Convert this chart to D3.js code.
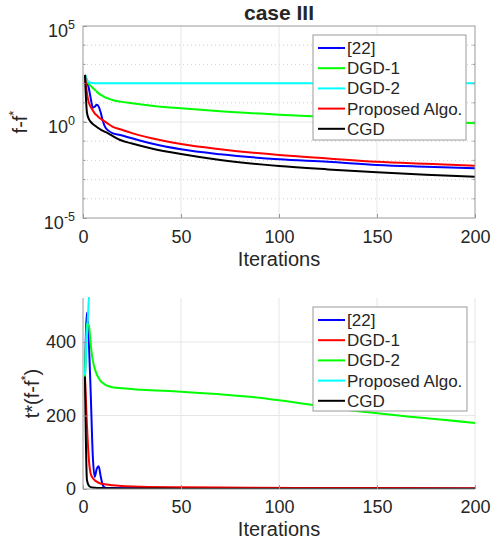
<!DOCTYPE html>
<html>
<head>
<meta charset="utf-8">
<title>case III</title>
<script src="https://d3js.org/d3.v7.min.js"></script>
<style>
    body { margin: 0; background: #fff; }
    svg text { font-family: "Liberation Sans", Arial, Helvetica, sans-serif; fill: #262626; }
</style>
</head>
<body>
<div id="chart"></div>
<script>
    // ---- top panel : f - f* (log scale) ----
    var topIters    = [1, 2, 3, 4, 5, 6, 7, 8, 9, 10, 11, 13, 15, 19, 25, 35, 50, 70, 100, 125, 150, 175, 200];
    var topRef22    = [282, 141, 56, 15.8, 5.6, 6.3, 7.9, 6.3, 3.2, 1.26, 0.63, 0.355, 0.263, 0.209, 0.141, 0.076, 0.038, 0.0209, 0.0115, 0.0085, 0.0058, 0.0047, 0.0039];
    var topDgd1     = [282, 141, 95, 76, 59, 48, 38, 31, 26, 23, 20, 16.6, 14.1, 11.5, 9.5, 7.1, 5.2, 3.6, 2.4, 1.82, 1.41, 1.10, 0.85];
    var topDgd2     = [282, 158, 117, 110, 107, 105, 105, 105, 105, 105, 105, 105, 105, 105, 105, 105, 105, 105, 105, 105, 105, 105, 105];
    var topProposed = [282, 32, 10, 6.0, 4.0, 2.8, 2.24, 1.78, 1.48, 1.26, 1.07, 0.79, 0.575, 0.42, 0.263, 0.141, 0.071, 0.038, 0.019, 0.0126, 0.0085, 0.0066, 0.0052];
    var topCgd      = [282, 3.2, 1.41, 1.0, 0.79, 0.66, 0.55, 0.47, 0.40, 0.355, 0.316, 0.25, 0.19, 0.115, 0.076, 0.042, 0.0214, 0.0105, 0.0051, 0.0034, 0.0024, 0.0018, 0.0014];
    var topLabels   = ["[22]", "DGD-1", "DGD-2", "Proposed Algo.", "CGD"];
    var topColors   = ["#0000ff", "#00ff00", "#00ffff", "#ff0000", "#000000"];
    var topYTicks   = [1e-5, 1, 1e5];

    // ---- bottom panel : t*(f - f*) ----
    var botIters    = [1, 2, 3, 4, 5, 6, 7, 8, 9, 10, 11, 12, 15, 20, 30, 50, 85, 143, 200];
    var botRef22    = [300, 480, 400, 250, 90, 33, 55, 62, 35, 12, 4, 3, 2.5, 2, 2, 2, 1.5, 1.2, 1];
    var botDgd1     = [306, 175, 80, 40, 30, 24, 20, 17, 15, 14, 13, 12, 10, 8, 6, 4.5, 3.5, 2.5, 2];
    var botDgd2     = [300, 450, 445, 390, 350, 328, 312, 302, 294, 289, 285, 282, 277, 274, 270, 265, 251, 210, 180];
    var botProposed = [310, 420, 520, 630, null, null, null, null, null, null, null, null, null, null, null, null, null, null, null];
    var botCgd      = [306, 25, 9, 5, 4, 3.5, 3, 2.8, 2.6, 2.4, 2.2, 2, 1.8, 1.5, 1.2, 1, 0.8, 0.6, 0.5];
    var botLabels   = ["[22]", "DGD-1", "DGD-2", "Proposed Algo.", "CGD"];
    var botColors   = ["#0000ff", "#ff0000", "#00ff00", "#00ffff", "#000000"];
    var botYTicks   = [0, 200, 400];

    var xTicks = [0, 50, 100, 150, 200];

    var W = 499, H = 542;
    var left = 83, right = 475;
    var axisColor = "#9a9a9a";
    var tickFont = "18px", labelFont = "20px", legendFont = "17px";

    var svg = d3.select("#chart").append("svg")
        .attr("width", W)
        .attr("height", H);

    function DrawLegend(g, labels, colors, box) {
        var lg = g.append("g");
        lg.append("rect")
            .attr("x", box.x).attr("y", box.y)
            .attr("width", box.w).attr("height", box.h)
            .attr("fill", "#fff")
            .attr("stroke", axisColor)
            .attr("stroke-width", 1);
        labels.forEach(function (lab, i) {
            var yy = box.y + 13 + i * 20.2;
            lg.append("line")
                .attr("x1", box.x + 5).attr("x2", box.x + 32)
                .attr("y1", yy).attr("y2", yy)
                .attr("stroke", colors[i])
                .attr("stroke-width", 2);
            lg.append("text")
                .attr("x", box.x + 34)
                .attr("y", yy + 6)
                .attr("font-size", legendFont)
                .text(lab);
        });
    }

    function DrawSeries(g, x, y, iters, seriesList, colors, clipId) {
        var line = d3.line()
            .defined(function (d) { return d[1] != null; })
            .x(function (d) { return x(d[0]); })
            .y(function (d) { return y(d[1]); })
            .curve(d3.curveMonotoneX);
        var lines = g.append("g").attr("clip-path", "url(#" + clipId + ")");
        seriesList.forEach(function (vals, i) {
            var pts = iters.map(function (t, k) { return [t, vals[k]]; });
            lines.append("path")
                .datum(pts)
                .attr("d", line)
                .attr("fill", "none")
                .attr("stroke", colors[i])
                .attr("stroke-width", 2)
                .attr("stroke-linejoin", "round");
        });
    }

    function StyleAxis(a) {
        a.select(".domain").remove();
        a.selectAll(".tick line").attr("stroke", axisColor);
        a.selectAll(".tick text").attr("font-size", tickFont).attr("fill", "#262626");
        a.attr("font-family", null);
    }

    // ================= top panel =================
    var t0 = 26, t1 = 218;
    var xTop = d3.scaleLinear().domain([0, 200]).range([left, right]);
    var yTop = d3.scaleLog().domain([1e-5, 1e5]).range([t1, t0]);
    var gTop = svg.append("g");

    gTop.append("clipPath").attr("id", "clipTop")
        .append("rect").attr("x", left).attr("y", t0)
        .attr("width", right - left).attr("height", t1 - t0);

    // grid
    var decades = d3.range(-4, 5).map(function (e) { return Math.pow(10, e); });
    gTop.selectAll(".minor").data(decades).enter().append("line")
        .attr("x1", left).attr("x2", right)
        .attr("y1", function (d) { return yTop(d); })
        .attr("y2", function (d) { return yTop(d); })
        .attr("stroke", function (d) { return d === 1 ? "#e6e6e6" : "#cfcfcf"; })
        .attr("stroke-dasharray", function (d) { return d === 1 ? null : "1,3"; })
        .attr("stroke-width", 1);
    gTop.selectAll(".vgrid").data(xTicks.slice(1, 4)).enter().append("line")
        .attr("x1", function (d) { return xTop(d); })
        .attr("x2", function (d) { return xTop(d); })
        .attr("y1", t0).attr("y2", t1)
        .attr("stroke", "#e6e6e6").attr("stroke-width", 1);

    DrawSeries(gTop, xTop, yTop, topIters, [topRef22, topDgd1, topDgd2, topProposed, topCgd], topColors, "clipTop");

    // axes
    var xAxisTop = gTop.append("g")
        .attr("transform", "translate(0," + t1 + ")")
        .call(d3.axisBottom(xTop).tickValues(xTicks).tickSizeInner(-4).tickSizeOuter(0).tickPadding(12));
    var yAxisTop = gTop.append("g")
        .attr("transform", "translate(" + left + ",0)")
        .call(d3.axisLeft(yTop).tickValues(topYTicks).tickSizeInner(-4).tickSizeOuter(0).tickPadding(8)
            .tickFormat(function () { return ""; }));
    yAxisTop.selectAll(".tick text").each(function (d) {
        var t = d3.select(this);
        t.attr("dy", "10px");
        t.append("tspan").text("10");
        t.append("tspan").attr("dy", "-7.5px").attr("font-size", "12.5px")
            .text(Math.round(Math.log10(d)));
    });
    // minor ticks left/right
    gTop.selectAll(".mtick").data(decades).enter().append("path")
        .attr("d", function (d) {
            var yy = yTop(d);
            return "M" + left + "," + yy + "h2.5M" + right + "," + yy + "h-2.5";
        })
        .attr("stroke", axisColor);
    gTop.append("rect")
        .attr("x", left).attr("y", t0)
        .attr("width", right - left).attr("height", t1 - t0)
        .attr("fill", "none").attr("stroke", axisColor);

    StyleAxis(xAxisTop);
    StyleAxis(yAxisTop);

    DrawLegend(gTop, topLabels, topColors, { x: 313, y: 35, w: 153, h: 105 });

    gTop.append("text")
        .attr("x", 279).attr("y", 20)
        .attr("text-anchor", "middle")
        .attr("font-size", "21px").attr("font-weight", "bold")
        .attr("fill", "#000")
        .text("case III");
    gTop.append("text")
        .attr("x", xTop(100)).attr("y", 266)
        .attr("text-anchor", "middle")
        .attr("font-size", labelFont)
        .text("Iterations");
    var ylTop = gTop.append("text")
        .attr("transform", "translate(27," + ((t0 + t1) / 2) + ") rotate(-90)")
        .attr("text-anchor", "middle")
        .attr("font-size", labelFont);
    ylTop.append("tspan").text("f-f");
    ylTop.append("tspan").attr("dy", "-9px").attr("font-size", "13px").text("*");

    // ================= bottom panel =================
    var b0 = 298, b1 = 489;
    var xBot = d3.scaleLinear().domain([0, 200]).range([left, right]);
    var yBot = d3.scaleLinear().domain([0, 520]).range([b1, b0]);
    var gBot = svg.append("g");

    gBot.append("clipPath").attr("id", "clipBot")
        .append("rect").attr("x", left).attr("y", b0 - 1)
        .attr("width", right - left).attr("height", b1 - b0 + 1);

    gBot.selectAll(".hgrid").data(botYTicks.slice(1)).enter().append("line")
        .attr("x1", left).attr("x2", right)
        .attr("y1", function (d) { return yBot(d); })
        .attr("y2", function (d) { return yBot(d); })
        .attr("stroke", "#e6e6e6").attr("stroke-width", 1);
    gBot.selectAll(".vgrid").data(xTicks.slice(1)).enter().append("line")
        .attr("x1", function (d) { return xBot(d); })
        .attr("x2", function (d) { return xBot(d); })
        .attr("y1", b0).attr("y2", b1)
        .attr("stroke", "#e6e6e6").attr("stroke-width", 1);

    DrawSeries(gBot, xBot, yBot, botIters, [botRef22, botDgd1, botDgd2, botProposed, botCgd], botColors, "clipBot");

    var xAxisBot = gBot.append("g")
        .attr("transform", "translate(0," + b1 + ")")
        .call(d3.axisBottom(xBot).tickValues(xTicks).tickSizeInner(-4).tickSizeOuter(0).tickPadding(11.5));
    var yAxisBot = gBot.append("g")
        .attr("transform", "translate(" + left + ",0)")
        .call(d3.axisLeft(yBot).tickValues(botYTicks).tickSizeInner(-4).tickSizeOuter(0).tickPadding(7));
    StyleAxis(xAxisBot);
    StyleAxis(yAxisBot);
    gBot.append("path")
        .attr("d", "M" + left + "," + b0 + "V" + b1 + "H" + right)
        .attr("fill", "none").attr("stroke", axisColor);

    DrawLegend(gBot, botLabels, botColors, { x: 313, y: 307, w: 154, h: 104 });

    gBot.append("text")
        .attr("x", xBot(100)).attr("y", 536)
        .attr("text-anchor", "middle")
        .attr("font-size", labelFont)
        .text("Iterations");
    var ylBot = gBot.append("text")
        .attr("transform", "translate(39," + ((b0 + b1) / 2) + ") rotate(-90)")
        .attr("text-anchor", "middle")
        .attr("font-size", labelFont);
    ylBot.append("tspan").text("t*(f-f");
    ylBot.append("tspan").attr("dy", "-9px").attr("font-size", "13px").text("*");
    ylBot.append("tspan").attr("dy", "9px").text(")");
</script>
</body>
</html>
